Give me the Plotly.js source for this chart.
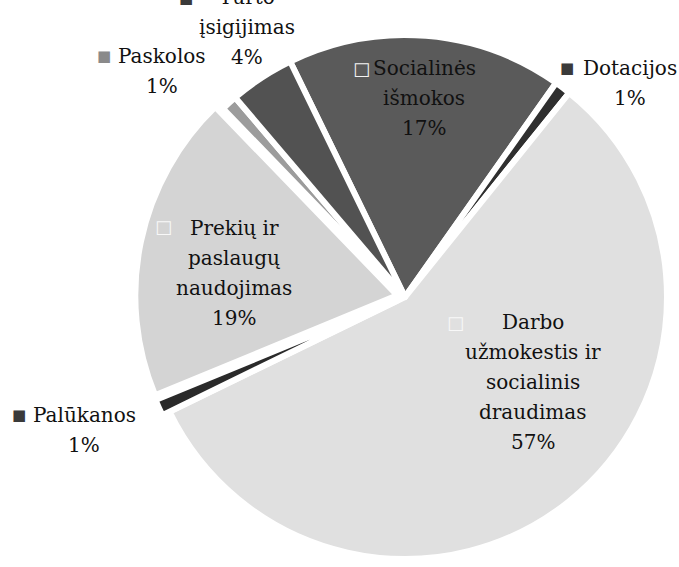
<!DOCTYPE html>
<html>
<head>
<meta charset="utf-8">
<script src="https://cdn.plot.ly/plotly-3.0.1.min.js"></script>
<style>
html,body{margin:0;padding:0;background:#fff;}
#chart{width:679px;height:567px;}
</style>
</head>
<body>
<div id="chart"></div>
<script>
// Data (clockwise, starting from the top-left edge of "Socialinės išmokos")
const categories = [
  "Socialinės išmokos",
  "Dotacijos",
  "Darbo užmokestis ir socialinis draudimas",
  "Palūkanos",
  "Prekių ir paslaugų naudojimas",
  "Paskolos",
  "Turto įsigijimas"
];
const shares = [17, 1, 57, 1, 19, 1, 4];
// label lines as printed on the chart
const labelLines = [
  ["Socialinės", "išmokos"],
  ["Dotacijos"],
  ["Darbo", "užmokestis ir", "socialinis", "draudimas"],
  ["Palūkanos"],
  ["Prekių ir", "paslaugų", "naudojimas"],
  ["Paskolos"],
  ["Turto", "įsigijimas"]
];
const keySymbols = ["□", "■", "□", "■", "□", "■", "■"];

// styling
const sliceColors = ["#5a5a5a", "#2f2f2f", "#e0e0e0", "#2a2a2a", "#d4d4d4", "#9c9c9c", "#525252"];
const slicePull = [0, 0, 0, 0.03, 0.03, 0, 0];
const keyColors = ["#f4f4f4", "#3a3a3a", "#f8f8f8", "#3a3a3a", "#f8f8f8", "#8a8a8a", "#3a3a3a"];
const W = 679, H = 567;
// label layout in pixels: centre x of the text, y of the first line, key square position
const textX = [424, 630, 533, 84, 234, 162, 247];
const firstLineY = [68, 68, 322, 415, 228, 56, -3];
const keyXY = [[361, 68], [567, 68], [456, 322], [19, 415], [163, 226], [104, 56], [186, -2]];
const keySize = [18, 15, 18, 15, 18, 15, 15];
const lineStep = 30;

const total = shares.reduce((a, b) => a + b, 0);
const FONT = "DejaVu Serif";
const annotations = [];
categories.forEach((c, i) => {
  const lines = labelLines[i].concat([Math.round(shares[i] / total * 100) + "%"]);
  lines.forEach((t, k) => {
    annotations.push({
      x: textX[i] / W,
      y: 1 - (firstLineY[i] + k * lineStep) / H,
      xref: "paper", yref: "paper",
      xanchor: "center", yanchor: "middle",
      showarrow: false,
      text: t,
      font: {family: FONT, size: 20, color: "#111"}
    });
  });
  annotations.push({
    x: keyXY[i][0] / W,
    y: 1 - keyXY[i][1] / H,
    xref: "paper", yref: "paper",
    xanchor: "center", yanchor: "middle",
    showarrow: false,
    text: keySymbols[i],
    font: {family: FONT, size: keySize[i], color: keyColors[i]}
  });
});

const cx = 405, cy = 297, r = 262;
const half = r * (1 + Math.max(...slicePull));
const trace = {
  type: "pie",
  labels: categories,
  values: shares,
  sort: false,
  direction: "clockwise",
  rotation: -26,
  pull: slicePull,
  textinfo: "none",
  hoverinfo: "label+percent",
  marker: {colors: sliceColors, line: {color: "#ffffff", width: 6}},
  domain: {
    x: [(cx - half) / W, Math.min(1, (cx + half) / W)],
    y: [Math.max(0, (H - cy - half) / H), (H - cy + half) / H]
  },
  showlegend: false
};

const layout = {
  width: W, height: H,
  margin: {l: 0, r: 0, t: 0, b: 0},
  paper_bgcolor: "#ffffff",
  plot_bgcolor: "#ffffff",
  showlegend: false,
  annotations: annotations
};

Plotly.newPlot("chart", [trace], layout, {displayModeBar: false, staticPlot: true});
</script>
</body>
</html>
